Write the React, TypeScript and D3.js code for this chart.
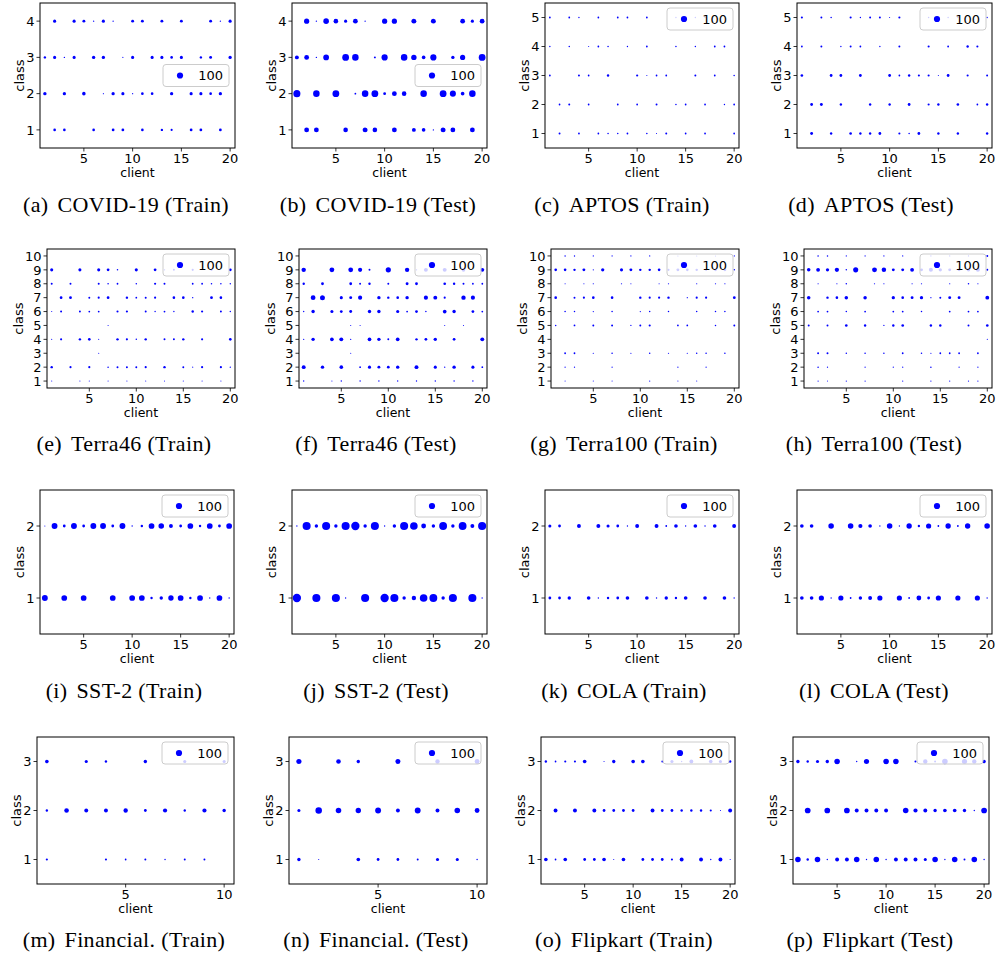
import React from "react";
import * as d3 from "d3";

type Pt = [number, number]; // [client, count]

// ---- data: per panel, index = class - 1, entries [client, samples] ----
const covidTrain: Pt[][] = [
  [[2,18],[3,18],[6,18],[8,20],[9,20],[11,18],[13,15],[14,12],[16,20],[17,20],[19,20]],
  [[1,30],[3,28],[5,32],[7,3],[8,28],[9,25],[10,4],[11,18],[12,18],[14,28],[16,25],[17,25],[18,18],[19,28]],
  [[1,15],[2,25],[3,5],[4,25],[6,30],[7,28],[9,3],[10,25],[12,25],[13,25],[14,18],[15,25],[17,15],[18,22],[20,28]],
  [[2,25],[4,25],[5,22],[6,5],[7,25],[8,5],[10,22],[11,22],[13,22],[15,22],[18,22],[19,5],[20,25]],
];
const covidTest: Pt[][] = [
  [[2,60],[3,60],[6,55],[8,65],[9,55],[11,60],[13,40],[14,35],[15,5],[16,65],[17,60],[19,60]],
  [[1,130],[3,110],[5,120],[7,8],[8,110],[9,120],[10,20],[11,60],[12,55],[14,110],[16,120],[17,95],[18,35],[19,110]],
  [[1,40],[2,60],[3,5],[4,85],[6,120],[7,110],[9,10],[10,100],[12,110],[13,75],[14,35],[15,100],[17,30],[18,70],[20,120]],
  [[2,70],[3,5],[4,80],[5,55],[6,25],[7,60],[8,5],[10,70],[11,70],[13,65],[15,65],[18,60],[19,25],[20,60]],
];
const aptosTrain: Pt[][] = [
  [[2,10],[4,8],[6,8],[7,6],[8,6],[9,8],[11,6],[12,3],[13,10],[15,8],[17,8],[20,8]],
  [[2,8],[3,10],[5,8],[8,8],[10,8],[12,10],[14,6],[15,8],[17,8],[19,5],[20,8]],
  [[1,8],[4,10],[5,8],[7,15],[10,12],[11,3],[12,8],[13,8],[16,10],[18,8],[20,6]],
  [[1,5],[3,6],[5,3],[6,8],[7,6],[9,5],[11,8],[14,6],[16,5],[18,8],[19,8]],
  [[1,8],[3,8],[4,5],[6,8],[8,8],[9,8],[11,8],[14,5],[16,5],[17,5]],
];
const aptosTest: Pt[][] = [
  [[2,22],[4,15],[6,18],[7,15],[8,15],[9,20],[11,12],[12,6],[13,20],[15,15],[17,15],[20,15]],
  [[2,20],[3,22],[5,15],[8,15],[10,15],[12,20],[14,12],[15,15],[17,18],[19,8],[20,15]],
  [[1,18],[4,20],[5,20],[7,20],[10,20],[11,8],[12,15],[13,12],[14,12],[15,3],[16,20],[18,12],[20,10]],
  [[1,8],[3,10],[5,5],[6,10],[7,8],[9,5],[11,10],[14,12],[16,8],[18,15],[19,12]],
  [[1,12],[3,10],[4,6],[6,12],[7,5],[8,10],[9,10],[10,3],[11,12],[14,6],[16,6],[17,6],[20,5]],
];
const terra46Train: Pt[][] = [
  [[1,3],[4,3],[5,3],[7,3],[9,3],[11,3],[13,3],[15,3],[17,3],[19,3]],
  [[1,15],[3,12],[5,12],[7,6],[8,10],[9,10],[10,10],[11,12],[13,15],[15,10],[16,3],[17,12],[19,12],[20,5]],
  [[6,3]],
  [[1,3],[2,12],[4,15],[5,18],[6,3],[8,15],[9,12],[10,6],[11,15],[13,10],[14,10],[15,15],[17,12],[20,18]],
  [[7,3]],
  [[1,3],[2,10],[4,10],[5,8],[6,8],[8,12],[9,12],[11,10],[12,5],[13,8],[14,5],[16,15],[17,12],[19,10],[20,5]],
  [[2,20],[3,20],[5,10],[6,12],[7,20],[9,15],[10,8],[11,10],[12,12],[14,18],[15,18],[16,5],[18,20],[19,18]],
  [[1,10],[3,10],[6,10],[7,6],[8,8],[10,6],[12,12],[13,10],[16,8],[17,8],[18,6],[19,6],[20,5]],
  [[1,25],[4,25],[6,25],[7,20],[8,6],[10,25],[12,20],[13,5],[14,10],[16,12],[18,12],[20,20]],
  [],
];
const terra46Test: Pt[][] = [
  [[1,5],[4,3],[5,5],[7,5],[9,5],[11,5],[13,5],[15,5],[17,5],[19,5]],
  [[1,40],[3,30],[5,35],[7,8],[8,25],[9,22],[10,20],[11,30],[13,40],[15,25],[16,5],[17,30],[19,25],[20,8]],
  [[6,3]],
  [[1,5],[2,30],[4,35],[5,40],[6,5],[8,35],[9,30],[10,10],[11,35],[13,15],[14,20],[15,30],[17,20],[20,40]],
  [[6,3],[7,3],[16,3],[18,3]],
  [[1,5],[2,30],[4,25],[5,20],[6,22],[8,30],[9,30],[11,25],[12,8],[13,20],[14,6],[16,35],[17,30],[19,20],[20,8]],
  [[2,60],[3,65],[5,25],[6,22],[7,45],[9,30],[10,15],[11,18],[12,30],[14,45],[15,40],[16,12],[18,50],[19,45]],
  [[1,15],[3,20],[6,20],[7,10],[8,15],[10,10],[12,22],[13,20],[16,18],[17,15],[18,10],[19,8],[20,8]],
  [[1,50],[4,60],[6,60],[7,45],[8,10],[10,70],[12,50],[13,5],[14,40],[16,40],[18,35],[20,40]],
  [],
];
const terra100Train: Pt[][] = [
  [[2,3],[5,3],[7,3],[11,4],[14,3],[16,3]],
  [[2,4],[3,4],[7,4],[14,4],[17,4]],
  [[2,8],[3,8],[5,4],[7,6],[9,4],[11,6],[13,4],[15,4],[16,6],[17,6],[19,6]],
  [],
  [[1,6],[3,8],[5,10],[7,10],[9,4],[10,10],[11,12],[14,8],[15,8],[18,6],[20,10]],
  [[2,6],[3,6],[5,4],[7,6],[10,4],[11,6],[13,6],[16,6],[18,6],[19,6]],
  [[1,18],[3,10],[4,12],[5,18],[7,18],[10,15],[11,12],[12,12],[13,15],[15,4],[16,12],[17,12],[20,20]],
  [[2,3],[4,3],[5,4],[8,4],[9,3],[12,3],[13,4],[16,4],[18,4],[19,4]],
  [[1,18],[2,18],[3,15],[4,22],[5,4],[6,28],[8,25],[9,22],[10,15],[11,15],[12,18],[13,12],[14,22],[15,18],[16,15],[17,12],[18,18],[19,22],[20,6]],
  [[2,5],[3,5],[5,4],[7,4],[9,4],[11,4],[14,3],[16,3],[18,3],[20,4]],
];
const terra100Test: Pt[][] = [
  [[2,4],[3,3],[5,4],[7,4],[11,4],[14,4],[16,4],[18,4],[19,4]],
  [[2,6],[3,4],[7,4],[10,4],[11,4],[14,6],[17,4],[19,4]],
  [[2,10],[3,10],[5,6],[7,6],[9,6],[11,8],[13,6],[14,4],[15,8],[16,8],[17,8],[19,8]],
  [[20,3]],
  [[1,10],[3,10],[5,18],[7,15],[9,4],[10,15],[11,18],[14,15],[15,15],[18,10],[20,18]],
  [[2,8],[3,8],[5,6],[7,8],[10,8],[11,8],[13,6],[16,8],[18,8],[19,8]],
  [[1,32],[3,15],[4,18],[5,32],[7,32],[10,28],[11,18],[12,22],[13,28],[14,4],[15,10],[16,22],[17,22],[20,38]],
  [[2,4],[4,4],[5,6],[8,4],[9,4],[12,4],[13,4],[16,4],[18,6],[19,4]],
  [[1,32],[2,38],[3,28],[4,48],[5,6],[6,68],[8,62],[9,52],[10,22],[11,22],[12,38],[13,22],[14,42],[15,28],[16,22],[17,22],[18,32],[19,42],[20,10]],
  [[2,6],[3,6],[5,4],[7,4],[9,4],[11,4],[14,4],[16,4],[18,4],[20,10]],
];
const sst2Train: Pt[][] = [
  [[1,90],[3,85],[5,85],[8,85],[10,85],[11,85],[12,15],[13,30],[14,75],[15,85],[16,15],[17,85],[18,5],[19,85],[20,5]],
  [[1,3],[2,90],[3,20],[4,90],[5,20],[6,90],[7,90],[8,20],[9,90],[10,5],[11,15],[12,85],[13,80],[14,40],[15,20],[16,85],[17,15],[18,85],[19,20],[20,85]],
];
const sst2Test: Pt[][] = [
  [[1,180],[3,170],[5,170],[6,5],[8,170],[10,180],[11,170],[12,30],[13,50],[14,150],[15,160],[16,30],[17,170],[19,170],[20,5]],
  [[1,5],[2,170],[3,30],[4,170],[5,30],[6,170],[7,180],[8,30],[9,170],[10,5],[11,30],[12,170],[13,150],[14,60],[15,30],[16,160],[17,30],[18,160],[19,40],[20,170]],
];
const colaTrain: Pt[][] = [
  [[1,20],[2,20],[3,30],[5,35],[6,5],[7,15],[8,20],[9,35],[11,35],[12,5],[13,30],[14,15],[15,35],[17,35],[19,35],[20,5]],
  [[1,25],[2,20],[4,40],[6,40],[7,25],[8,20],[9,5],[10,40],[12,40],[13,8],[14,35],[15,5],[16,35],[17,5],[18,35],[20,40]],
];
const colaTest: Pt[][] = [
  [[1,35],[2,35],[3,70],[4,5],[5,70],[6,8],[7,30],[8,40],[9,70],[11,70],[12,8],[13,60],[14,20],[15,70],[17,70],[19,70],[20,5]],
  [[1,35],[2,35],[4,80],[6,80],[7,45],[8,35],[9,5],[10,80],[11,5],[12,75],[13,15],[14,70],[15,8],[16,75],[17,8],[18,75],[20,80]],
];
const financialTrain: Pt[][] = [
  [[1,12],[4,12],[5,8],[6,10],[7,5],[8,10],[9,10]],
  [[1,15],[2,55],[3,40],[4,40],[5,50],[6,20],[7,45],[8,15],[9,45],[10,30]],
  [[1,35],[3,25],[4,15],[6,30],[8,25],[10,25]],
];
const financialTest: Pt[][] = [
  [[1,30],[2,3],[4,35],[5,20],[6,20],[7,10],[8,25],[9,25],[10,5]],
  [[1,25],[2,110],[3,80],[4,75],[5,90],[6,40],[7,90],[8,40],[9,80],[10,60]],
  [[1,70],[3,55],[4,30],[6,65],[8,50],[10,60]],
];
const flipkartTrain: Pt[][] = [
  [[1,35],[2,8],[3,35],[5,20],[6,20],[7,35],[8,3],[9,35],[11,20],[12,20],[13,20],[14,12],[15,40],[17,40],[18,5],[19,40],[20,3]],
  [[2,40],[4,40],[6,40],[7,20],[8,20],[9,20],[10,20],[12,40],[13,20],[14,20],[15,15],[16,15],[17,15],[18,12],[19,3],[20,40]],
  [[1,15],[2,8],[3,12],[4,12],[5,35],[7,3],[8,30],[10,35],[11,35],[13,8],[14,25],[15,5],[16,40],[18,35],[19,25],[20,15]],
];
const flipkartTest: Pt[][] = [
  [[1,80],[2,15],[3,80],[4,5],[5,40],[6,40],[7,80],[8,5],[9,80],[10,5],[11,40],[12,40],[13,40],[14,25],[15,80],[16,5],[17,80],[18,10],[19,80],[20,5]],
  [[2,85],[4,85],[6,85],[7,40],[8,40],[9,40],[10,40],[12,80],[13,45],[14,40],[15,30],[16,35],[17,35],[18,30],[19,5],[20,85]],
  [[1,30],[2,15],[3,25],[4,30],[5,80],[7,5],[8,70],[10,80],[11,80],[13,12],[14,50],[15,10],[16,80],[18,70],[19,50],[20,30]],
];

const captions = [
  ["(a)", "COVID-19 (Train)"], ["(b)", "COVID-19 (Test)"], ["(c)", "APTOS (Train)"], ["(d)", "APTOS (Test)"],
  ["(e)", "Terra46 (Train)"], ["(f)", "Terra46 (Test)"], ["(g)", "Terra100 (Train)"], ["(h)", "Terra100 (Test)"],
  ["(i)", "SST-2 (Train)"], ["(j)", "SST-2 (Test)"], ["(k)", "COLA (Train)"], ["(l)", "COLA (Test)"],
  ["(m)", "Financial. (Train)"], ["(n)", "Financial. (Test)"], ["(o)", "Flipkart (Train)"], ["(p)", "Flipkart (Test)"],
];
const panelData = [
  covidTrain, covidTest, aptosTrain, aptosTest,
  terra46Train, terra46Test, terra100Train, terra100Test,
  sst2Train, sst2Test, colaTrain, colaTest,
  financialTrain, financialTest, flipkartTrain, flipkartTest,
];
const clientCounts = [20,20,20,20, 20,20,20,20, 20,20,20,20, 10,10,20,20];
const legendValue = 100;

// ---- layout ----
const rowTop = [3, 249, 490, 737];
const rowBottom = [148, 388, 634, 884];
const rowLefts = [[40, 292, 545, 797], [47, 299, 551, 804], [40, 292, 545, 797], [37, 289, 541, 793]];
const rowRights = [[235, 487, 739, 992], [235, 487, 739, 992], [234, 487, 739, 992], [234, 487, 735, 989]];
const captionBase = [212, 451, 698, 947];
const captionCenters = [[126, 378, 622, 871], [124, 376, 624, 874], [124, 376, 624, 874], [124, 376, 624, 870]];

const BLUE = "#0000ff";
const SANS = "'DejaVu Sans', sans-serif";
const SERIF = "'Liberation Serif', 'Times New Roman', serif";

const rScale = d3.scaleSqrt().domain([0, 100]).range([0, 3.1]);

function Panel({ idx }: { idx: number }) {
  const row = Math.floor(idx / 4), col = idx % 4;
  const L = rowLefts[row][col], R = rowRights[row][col];
  const T = rowTop[row], B = rowBottom[row];
  const data = panelData[idx];
  const nClass = data.length;
  const nClient = clientCounts[idx];
  const x = d3.scaleLinear().domain([0.5, nClient + 0.5]).range([L, R]);
  const y = d3.scaleLinear().domain([0.5, nClass + 0.5]).range([B, T]);
  const xTicks = d3.range(5, nClient + 1, 5);
  const yTicks = d3.range(1, nClass + 1);
  const maxDigits = String(nClass).length;
  const clipId = `clip${idx}`;
  const centerRight = idx < 2;
  const lw = 66, lh = 22;
  const lx = R - 6 - lw;
  const ly = centerRight ? (T + B) / 2 - lh / 2 : T + 5;
  const [cap1, cap2] = captions[idx];
  return (
    <g>
      <defs>
        <clipPath id={clipId}>
          <rect x={L} y={T} width={R - L} height={B - T} />
        </clipPath>
      </defs>
      <g clipPath={`url(#${clipId})`}>
        {data.map((pts, ci) =>
          pts.map(([c, v], k) => (
            <circle key={`${ci}-${k}`} cx={x(c)} cy={y(ci + 1)} r={rScale(v)} fill={BLUE} />
          ))
        )}
      </g>
      {/* legend */}
      <rect x={lx} y={ly} width={lw} height={lh} rx={3} fill="#fff" fillOpacity={0.8} stroke="#cccccc" strokeWidth={1} />
      <circle cx={lx + 17} cy={ly + lh / 2} r={rScale(legendValue)} fill={BLUE} />
      <text x={lx + lw - 6} y={ly + lh / 2 + 4.6} fontSize={13} fontFamily={SANS} textAnchor="end" fill="#000">{legendValue}</text>
      {/* frame */}
      <rect x={L} y={T} width={R - L} height={B - T} fill="none" stroke="#000" strokeWidth={1} />
      {xTicks.map((t) => (
        <g key={`xt${t}`}>
          <line x1={x(t)} x2={x(t)} y1={B} y2={B + 3.5} stroke="#000" strokeWidth={0.8} />
          <text x={x(t)} y={B + 14.5} fontSize={13} fontFamily={SANS} textAnchor="middle" fill="#000">{t}</text>
        </g>
      ))}
      {yTicks.map((t) => (
        <g key={`yt${t}`}>
          <line x1={L - 3.5} x2={L} y1={y(t)} y2={y(t)} stroke="#000" strokeWidth={0.8} />
          <text x={L - 5.5} y={y(t) + 4.7} fontSize={13} fontFamily={SANS} textAnchor="end" fill="#000">{t}</text>
        </g>
      ))}
      <text x={(L + R) / 2} y={B + 28.5} fontSize={12.5} fontFamily={SANS} textAnchor="middle" fill="#000">client</text>
      <text
        transform={`translate(${L - 7.5 - maxDigits * 8.3},${(T + B) / 2}) rotate(-90)`}
        fontSize={13} fontFamily={SANS} textAnchor="middle" fill="#000">class</text>
      <text x={captionCenters[row][col]} y={captionBase[row]} fontSize={22} letterSpacing={0.35} fontFamily={SERIF} textAnchor="middle" fill="#000">
        {cap1}<tspan dx={9}>{cap2}</tspan>
      </text>
    </g>
  );
}

export default function App() {
  return (
    <svg width={997} height={958} style={{ position: "absolute", left: 0, top: 0, background: "#fff" }}>
      <rect width={997} height={958} fill="#fff" />
      {panelData.map((_, i) => <Panel key={i} idx={i} />)}
    </svg>
  );
}
